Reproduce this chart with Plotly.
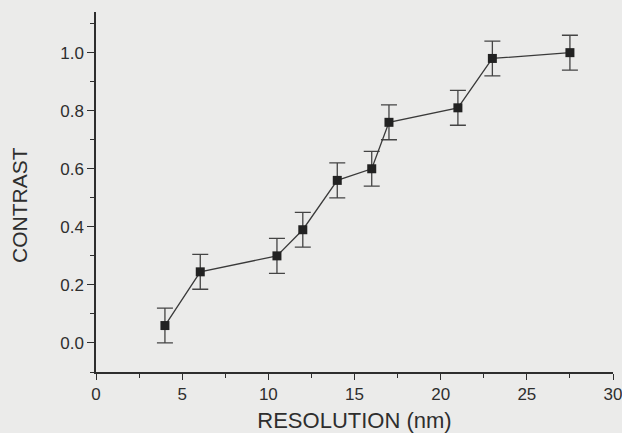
import plotly.graph_objects as go

resolution_nm = [4.0, 6.05, 10.5, 12.0, 14.0, 16.0, 17.0, 21.0, 23.0, 27.5]
contrast = [0.06, 0.245, 0.30, 0.39, 0.56, 0.60, 0.76, 0.81, 0.98, 1.00]
contrast_err = [0.06, 0.06, 0.06, 0.06, 0.06, 0.06, 0.06, 0.06, 0.06, 0.06]

ink = "#2e2e2e"
paper = "#ebebea"

fig = go.Figure()
fig.add_trace(go.Scatter(
    x=resolution_nm, y=contrast,
    mode="lines+markers",
    line=dict(color="#3a3a3a", width=1.3),
    marker=dict(symbol="square", size=9, color="#222222"),
    error_y=dict(type="data", array=contrast_err, visible=True,
                 color="#444444", thickness=1.3, width=8),
    showlegend=False,
))

fig.update_layout(
    width=622, height=433,
    margin=dict(l=96, r=9, t=12, b=61, autoexpand=False),
    paper_bgcolor=paper, plot_bgcolor=paper,
    font=dict(family="Liberation Sans, Arial, sans-serif", color=ink, size=17),
    xaxis=dict(
        range=[0, 30], tick0=0, dtick=5, automargin=False,
        ticklabeloverflow="allow",
        showline=True, linecolor=ink, linewidth=1.5,
        ticks="outside", ticklen=6, tickwidth=1.3, tickcolor=ink,
        showgrid=False, zeroline=False,
        tickfont=dict(size=17),
        minor=dict(dtick=2.5, ticks="outside", ticklen=4, tickcolor=ink, tickwidth=1.2, showgrid=False),
        title=dict(text="RESOLUTION (nm)", font=dict(size=22), standoff=9),
    ),
    yaxis=dict(
        range=[-0.1, 1.14], tick0=0, dtick=0.2, tickformat=".1f", automargin=False,
        showline=True, linecolor=ink, linewidth=1.5,
        ticks="outside", ticklen=7, tickwidth=1.3, tickcolor=ink,
        showgrid=False, zeroline=False,
        tickfont=dict(size=17),
        minor=dict(tick0=0.1, dtick=0.2, ticks="outside", ticklen=4, tickcolor=ink, tickwidth=1.2, showgrid=False),
    ),
    annotations=[dict(
        text="CONTRAST", textangle=-90, showarrow=False,
        xref="paper", yref="paper", x=-0.147, y=0.464,
        xanchor="center", yanchor="middle",
        font=dict(size=21, color=ink),
    )],
)

fig.write_html(
    "out.html",
    config={"displayModeBar": False},
    post_script="document.body.style.margin='0';document.body.style.background='#ebebea';",
)
